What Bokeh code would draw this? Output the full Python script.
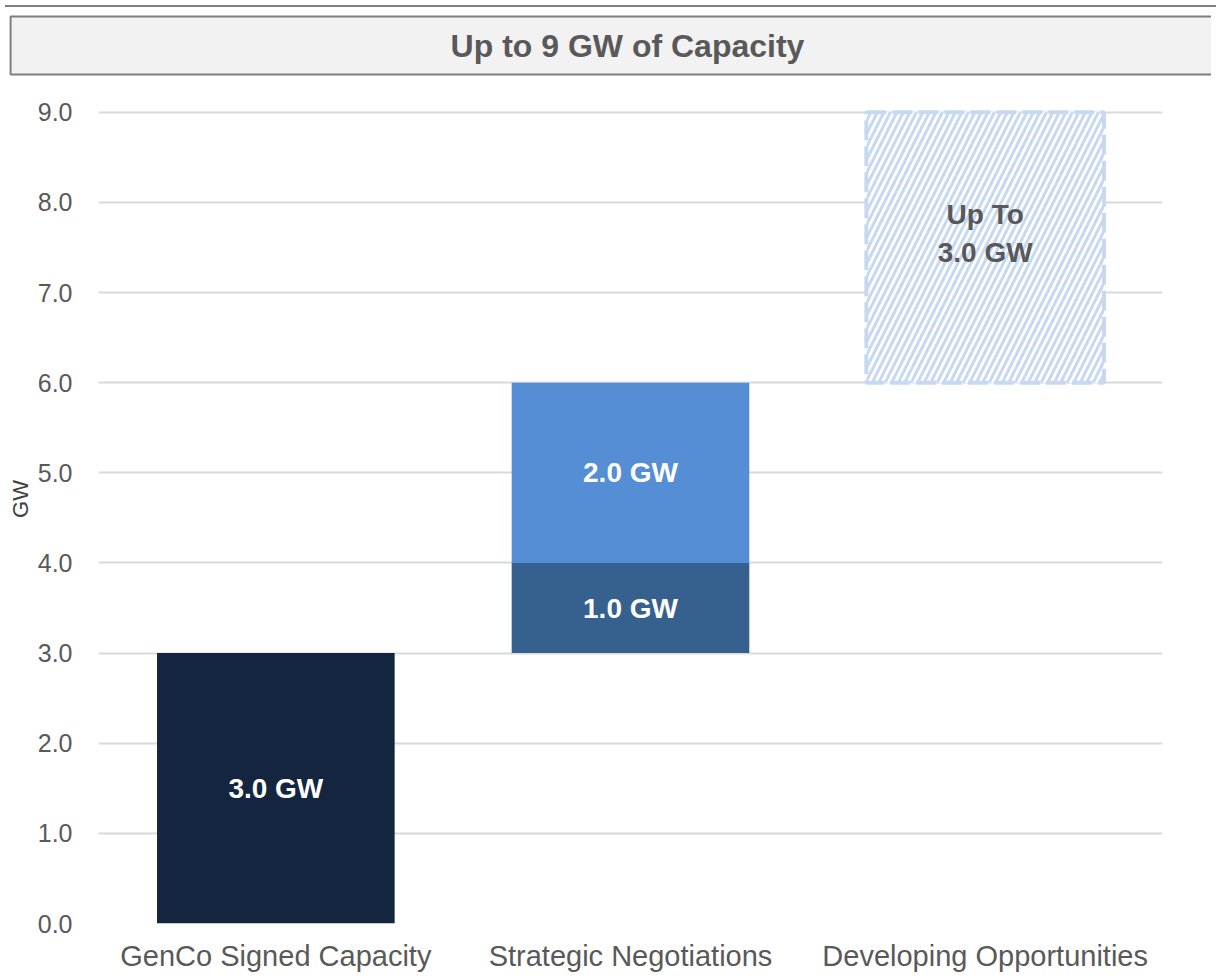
from bokeh.plotting import figure
from bokeh.models import Range1d, FactorRange, ColumnDataSource, NumeralTickFormatter, FixedTicker, Title, Div
from bokeh.layouts import column
from bokeh.core.properties import value
from bokeh.embed import file_html
from bokeh.resources import INLINE

# ---- data ----
categories = ["GenCo Signed Capacity", "Strategic Negotiations", "Developing Opportunities"]
segment_category = ["GenCo Signed Capacity", "Strategic Negotiations", "Strategic Negotiations", "Developing Opportunities"]
segment_values = [3.0, 1.0, 2.0, 3.0]
segment_labels = ["3.0 GW", "1.0 GW", "2.0 GW", "Up To\n3.0 GW"]
segment_colors = ["#13253f", "#36618f", "#558ed5", "#ffffff"]
y_ticks = [0, 1, 2, 3, 4, 5, 6, 7, 8, 9]
title_text = "Up to 9 GW of Capacity"

FONT = "Liberation Sans"
GREY = "#595959"
W = 1211
H = 962
BL, BR, BT, BB = 98, 49, 62, 44

# waterfall bottoms / tops
bottoms, tops = [], []
run = 0.0
for v in segment_values:
    bottoms.append(run)
    run += v
    tops.append(run)
mids = [(b + t) / 2 for b, t in zip(bottoms, tops)]

topline = Div(width=W, height=2, styles={"background-color": "#7f7f7f"})

p = figure(width=W, height=H, x_range=FactorRange(*categories, range_padding=0),
           y_range=Range1d(0, 9.42), output_backend="svg", toolbar_location=None,
           min_border_left=BL, min_border_right=BR, min_border_top=BT, min_border_bottom=BB)
p.title = Title(text=title_text, align="center", text_font=FONT,
                text_font_style="bold", text_font_size="32px", text_color=GREY,
                background_fill_color="#f2f2f2", border_line_color="#7f7f7f", border_line_width=2,
                padding=(440, 446, 11, 11), standoff=0)
p.outline_line_color = None
p.xgrid.visible = False
p.ygrid.grid_line_color = "#d9d9d9"
p.ygrid.grid_line_width = 2
p.yaxis.ticker = FixedTicker(ticks=y_ticks)
p.yaxis.formatter = NumeralTickFormatter(format="0.0")
for ax in (p.xaxis, p.yaxis):
    ax.axis_line_color = None
    ax.major_tick_line_color = None
    ax.minor_tick_line_color = None
    ax.major_label_text_font = FONT
    ax.major_label_text_color = GREY
p.yaxis.major_label_text_font_size = "25px"
p.yaxis.major_label_standoff = 20
p.xaxis.major_label_text_font_size = "29px"
p.xaxis.major_label_standoff = 10
p.yaxis.axis_label = "GW"
p.yaxis.axis_label_text_font = FONT
p.yaxis.axis_label_text_font_size = "22px"
p.yaxis.axis_label_text_font_style = "normal"
p.yaxis.axis_label_text_color = "#404040"
p.yaxis.axis_label_standoff = 2

solid = ColumnDataSource(dict(x=segment_category[:3], bottom=bottoms[:3], top=tops[:3],
                              color=segment_colors[:3]))
p.vbar(x="x", bottom="bottom", top="top", width=0.67, fill_color="color",
       line_color=None, source=solid)

dev = ColumnDataSource(dict(x=segment_category[3:], bottom=bottoms[3:], top=tops[3:]))
p.vbar(x="x", bottom="bottom", top="top", width=0.67, fill_color="#ffffff",
       hatch_pattern="/", hatch_color="#c6d9f1", hatch_scale=13, hatch_weight=3,
       line_color="#c6d9f1", line_width=4, line_dash="20 6", source=dev)

p.text(x=segment_category[:3], y=mids[:3], text=segment_labels[:3], text_font=value(FONT),
       text_font_style="bold", text_font_size="28px", text_color="#ffffff",
       text_align="center", text_baseline="middle")
p.text(x=segment_category[3:], y=mids[3:], text=segment_labels[3:], text_font=value(FONT),
       text_font_style="bold", text_font_size="28px", text_color=GREY,
       text_align="center", text_baseline="middle", y_offset=-14, text_line_height=1.2)

layout = column(topline, p, spacing=0)
open("out.html", "w").write(file_html(layout, INLINE))
